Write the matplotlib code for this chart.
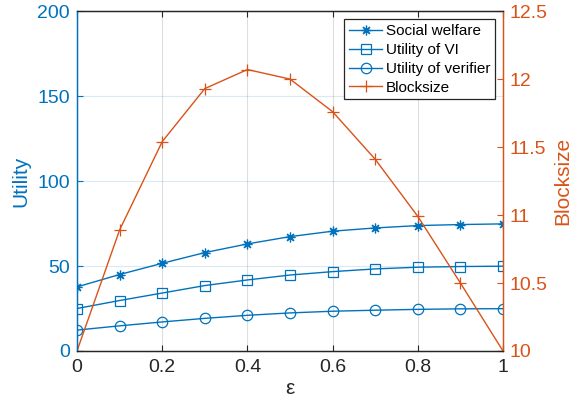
import matplotlib
matplotlib.use("Agg")
import matplotlib.pyplot as plt

plt.rcParams['font.family'] = ['Liberation Sans', 'DejaVu Sans']

eps = [0, 0.1, 0.2, 0.3, 0.4, 0.5, 0.6, 0.7, 0.8, 0.9, 1.0]
social_welfare = [37.7, 45.0, 51.6, 57.9, 63.0, 67.3, 70.5, 72.4, 73.8, 74.4, 74.8]
utility_vi = [25.0, 29.7, 34.1, 38.5, 41.8, 44.7, 46.7, 48.3, 49.3, 49.7, 49.9]
utility_verifier = [12.3, 14.8, 17.1, 19.2, 21.0, 22.4, 23.4, 24.0, 24.5, 24.8, 24.9]
blocksize = [10.0, 10.89, 11.54, 11.93, 12.07, 12.0, 11.76, 11.41, 10.99, 10.5, 10.0]

x_ticks = [0, 0.2, 0.4, 0.6, 0.8, 1]
x_ticklabels = ['0', '0.2', '0.4', '0.6', '0.8', '1']
left_ticks = [0, 50, 100, 150, 200]
right_ticks = [10, 10.5, 11, 11.5, 12, 12.5]
right_ticklabels = ['10', '10.5', '11', '11.5', '12', '12.5']

blue = '#0072BD'
orange = '#D95319'
dark = '#262626'

fig = plt.figure(figsize=(5.86, 4.11), dpi=100)
ax = fig.add_axes([0.1314, 0.146, 0.727, 0.827])
ax2 = ax.twinx()

lw = 1.0
h1, = ax.plot(eps, social_welfare, color=blue, lw=lw, marker=(8, 2, 0), markersize=7,
              markeredgewidth=0.9, label='Social welfare')
h2, = ax.plot(eps, utility_vi, color=blue, lw=lw, marker='s', markersize=6.5,
              markerfacecolor='none', markeredgewidth=0.9, label='Utility of VI')
h3, = ax.plot(eps, utility_verifier, color=blue, lw=lw, marker='o', markersize=7.5,
              markerfacecolor='none', markeredgewidth=0.9, label='Utility of verifier')
h4, = ax2.plot(eps, blocksize, color=orange, lw=lw, marker='+', markersize=8,
               markeredgewidth=0.9, label='Blocksize')

ax.set_xlim(0, 1)
ax.set_ylim(0, 200)
ax2.set_ylim(10, 12.5)
ax.set_xticks(x_ticks)
ax.set_xticklabels(x_ticklabels)
ax.set_yticks(left_ticks)
ax2.set_yticks(right_ticks)
ax2.set_yticklabels(right_ticklabels)

ax.grid(True, axis='x', color=dark, alpha=0.15, lw=0.8)
ax.grid(True, axis='y', color=blue, alpha=0.15, lw=0.8)
ax.set_axisbelow(True)

ax.tick_params(axis='x', direction='in', colors=dark, labelsize=14, top=True, length=4, pad=6)
ax.tick_params(axis='y', direction='in', colors=blue, labelsize=14, length=4, pad=5)
ax2.tick_params(axis='y', direction='in', colors=orange, labelsize=14, length=4, pad=5)
ax2.tick_params(axis='x', top=False)

for a in (ax, ax2):
    a.spines['top'].set_color(dark)
    a.spines['bottom'].set_color(dark)
    a.spines['left'].set_color(blue)
    a.spines['right'].set_color(orange)
    for s in a.spines.values():
        s.set_linewidth(0.9)

ax.set_xlabel('ε', fontsize=15, color=dark, labelpad=2)
ax.set_ylabel('Utility', fontsize=15, color=blue, labelpad=5)
ax2.set_ylabel('Blocksize', fontsize=15, color=orange, labelpad=4)

leg = ax2.legend(handles=[h1, h2, h3, h4], loc='upper right', fontsize=11,
                 frameon=True, fancybox=False, edgecolor=dark, framealpha=1,
                 handlelength=2.2, handletextpad=0.2, borderpad=0.3,
                 labelspacing=0.32, borderaxespad=0.55)
leg.get_frame().set_linewidth(0.9)

fig.savefig('out.png', dpi=100)
